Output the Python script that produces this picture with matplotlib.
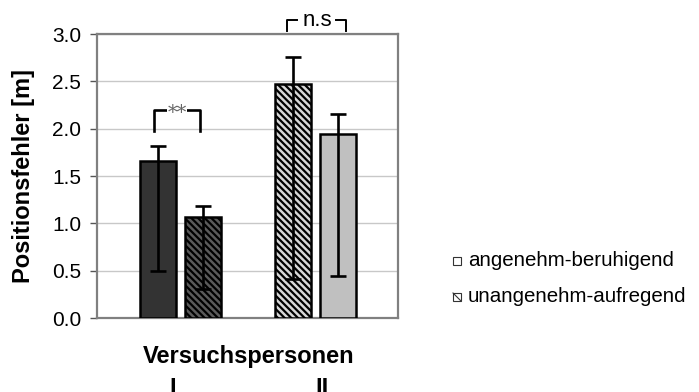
import matplotlib
matplotlib.use("Agg")
import matplotlib.pyplot as plt
from matplotlib.patches import Rectangle
from matplotlib.lines import Line2D
import numpy as np

plt.rcParams['font.family'] = ['Liberation Sans', 'DejaVu Sans']
plt.rcParams['hatch.linewidth'] = 1.6

# ---- data ----
groups = ["I", "II"]
conditions = ["angenehm-beruhigend", "unangenehm-aufregend"]
means = [1.66, 1.07, 2.47, 1.94]
err_upper = [1.82, 1.18, 2.76, 2.15]
err_lower = [0.50, 0.31, 0.41, 0.44]
bar_group = [0, 0, 1, 1]
yticks = [0.0, 0.5, 1.0, 1.5, 2.0, 2.5, 3.0]
sig_labels = ["**", "n.s"]

# ---- styles ----
face = ['#333333', '#5a5a5a', '#d8d8d8', '#c0c0c0']
hatches = [None, '\\\\\\\\\\', '\\\\\\\\\\', None]

W, H = 699, 392
fig = plt.figure(figsize=(W / 100, H / 100), dpi=100)
ax = fig.add_axes([97 / W, (H - 318) / H, 301 / W, 284 / H])

bw = 0.267
step = 0.33
offs = [-step / 2, step / 2, -step / 2, step / 2]
xs = np.array([bar_group[i] + offs[i] for i in range(4)])
means_a = np.array(means)
yerr = np.array([means_a - np.array(err_lower), np.array(err_upper) - means_a])

for i in range(4):
    ax.bar(xs[i], means[i], width=bw, color=face[i], edgecolor='black',
           linewidth=1.8, hatch=hatches[i], zorder=3)
ax.errorbar(xs, means, yerr=yerr, fmt='none', ecolor='black', elinewidth=1.9,
            capsize=5.8, capthick=1.9, zorder=4)

ax.set_xlim(-0.617, 1.613)
ax.set_ylim(0, 3.0)
ax.set_yticks(yticks)
ax.set_yticklabels([f"{t:.1f}" for t in yticks], fontsize=15)
ax.set_xticks([])
ax.yaxis.grid(True, color='#c8c8c8', linewidth=1.0, zorder=0)
ax.set_axisbelow(True)
for s in ax.spines.values():
    s.set_color('#808080')
    s.set_linewidth(1.6)
ax.tick_params(axis='y', length=5, width=1.0, color='#555555', pad=6.5)
ax.set_ylabel("Positionsfehler [m]", fontsize=17, fontweight='bold')
ax.yaxis.set_label_coords((35 - 97) / 301, 0.5)

# x labels
xt = ax.get_xaxis_transform()
ax.text(0.5 * (xs[0] + xs[3]) + 0.01, -0.158, "Versuchspersonen", transform=xt,
        ha='center', va='baseline', fontsize=17, fontweight='bold')
for g, lab in enumerate(groups):
    ax.text(g + (-0.054 if g == 0 else 0.05), -0.272, lab, transform=xt,
            ha='center', va='baseline', fontsize=17, fontweight='bold')

# significance brackets
x0, x1 = xs[0] - 0.03, xs[1] - 0.02
ax.plot([x0, x0, x1, x1], [1.98, 2.2, 2.2, 1.98], color='black', lw=1.9, zorder=5, clip_on=False)
ax.text((x0 + x1) / 2, 2.17, sig_labels[0], ha='center', va='center', fontsize=14,
        color='#666666', family='DejaVu Serif',
        bbox=dict(facecolor='white', edgecolor='none', pad=0.3), zorder=6)

x2, x3 = xs[2] - 0.045, xs[3] + 0.065
yb0, yb1 = 3.03, 3.15
ax.plot([x2, x2, x2 + 0.075], [yb0, yb1, yb1], color='black', lw=1.4, clip_on=False)
ax.plot([x3 - 0.075, x3, x3], [yb1, yb1, yb0], color='black', lw=1.4, clip_on=False)
ax.text((x2 + x3) / 2 + 0.005, 3.085, sig_labels[1], ha='center', va='baseline', fontsize=16,
        clip_on=False)

# legend (manual)
def fx(px):
    return px / W

def fy(py):
    return 1 - py / H

sq = 8
for k, (lab, yc) in enumerate(zip(conditions, [261, 297])):
    r = Rectangle((fx(453), fy(yc + sq / 2)), sq / W, sq / H, transform=fig.transFigure,
                  facecolor='white', edgecolor='#333333', linewidth=0.8)
    fig.add_artist(r)
    if k == 1:
        fig.add_artist(Line2D([fx(453), fx(453 + sq)], [fy(yc - sq / 2), fy(yc + sq / 2)],
                              transform=fig.transFigure, color='#333333', linewidth=0.8))
    fig.text(fx(468), fy(yc), lab, ha='left', va='center', fontsize=14.8)

fig.savefig("out.png", dpi=100)
